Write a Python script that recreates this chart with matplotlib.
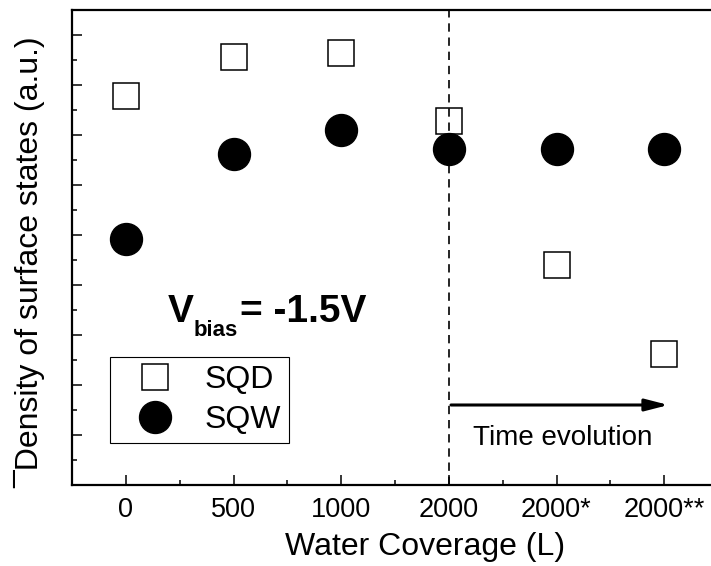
import matplotlib
matplotlib.use('Agg')
import matplotlib.pyplot as plt
from matplotlib.ticker import MultipleLocator

plt.rcParams['font.family'] = ['Liberation Sans', 'DejaVu Sans']

# categories on the x axis
coverage = ['0', '500', '1000', '2000', '2000*', '2000**']
# density of surface states (a.u.)
sqd = [7.78, 8.56, 8.64, 7.28, 4.40, 2.62]
sqw = [4.92, 6.62, 7.10, 6.72, 6.72, 6.72]

xpos = list(range(len(coverage)))

fig = plt.figure(figsize=(7.11, 5.66), dpi=100)
ax = fig.add_axes([72 / 711, 1 - 485 / 566, 646 / 711, 475 / 566])

ax.plot(xpos, sqd, 's', ms=18.5, mfc='white', mec='black', mew=1.1, label='SQD')
ax.plot(xpos, sqw, 'o', ms=23, mfc='black', mec='black', label='SQW')

ax.set_xlim(-0.5, 5.5)
ax.set_ylim(0, 9.5)
ax.set_xticks(xpos)
ax.set_xticklabels(coverage)
ax.xaxis.set_minor_locator(MultipleLocator(0.5))
ax.yaxis.set_major_locator(MultipleLocator(1))
ax.yaxis.set_minor_locator(MultipleLocator(0.5))
ax.set_yticklabels([])

ax.tick_params(which='both', direction='in', width=1.1, labelsize=19.5, pad=8.5)
ax.tick_params(which='major', length=7)
ax.tick_params(which='minor', length=3.6)
ax.tick_params(axis='y', which='both', labelleft=False)
for s in ax.spines.values():
    s.set_linewidth(1.6)

# dashed line at 2000 L
ax.axvline(3, color='black', lw=1.2, linestyle=(0, (5, 3.5)))

# time evolution arrow
ax.annotate('', xy=(5.04, 1.6), xytext=(3.02, 1.6),
            arrowprops=dict(arrowstyle='-|>,head_length=0.7,head_width=0.18',
                            color='black', lw=2.2, mutation_scale=20,
                            shrinkA=0, shrinkB=0))
ax.text(4.06, 0.8, 'Time evolution', fontsize=20, ha='center', va='baseline')

# bias voltage annotation
ax.text(0.39, 3.26, 'V', fontsize=28, fontweight='bold', va='baseline')
ax.text(0.632, 2.98, 'bias', fontsize=16, fontweight='bold', va='baseline')
ax.text(1.06, 3.26, '= -1.5V', fontsize=28, fontweight='bold', va='baseline')

ax.set_xlabel('Water Coverage (L)', fontsize=23)
ax.xaxis.set_label_coords(0.546, -0.1)
ax.set_ylabel('\u00afDensity of surface states (a.u.)', fontsize=23)
ax.yaxis.set_label_coords(-0.042, 0.47)

leg = ax.legend(loc='lower left', bbox_to_anchor=(0.0588, 0.0884), borderaxespad=0,
                fontsize=23, fancybox=False, framealpha=1, edgecolor='black',
                borderpad=0.25, labelspacing=0.3, handlelength=2.3, handletextpad=0.42)
leg.get_frame().set_linewidth(0.8)

fig.savefig('out.png', dpi=100)
